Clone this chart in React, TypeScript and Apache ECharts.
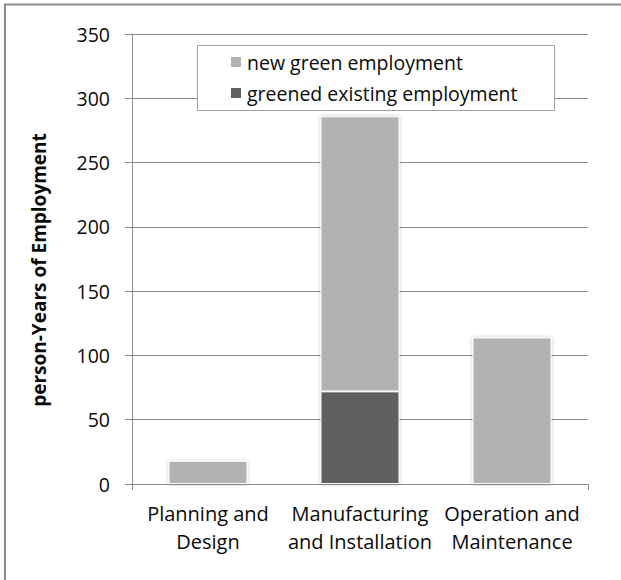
import React, { useEffect, useRef } from "react";
import * as echarts from "echarts";

// Employment by project phase, split into newly created and greened existing jobs
const categories = [
  "Planning and\nDesign",
  "Manufacturing\nand Installation",
  "Operation and\nMaintenance",
];
const greenedExisting = [0, 72, 0];
const newGreen = [18, 214, 114];
const yTicks = { min: 0, max: 350, interval: 50 };
const seriesNames = ["new green employment", "greened existing employment"];
const yTitle = "person-Years of Employment";

const FONT = "'Open Sans', sans-serif";
const LIGHT = "#b2b2b2";
const DARK = "#616161";
const RULE = "#8c8c8c";

export default function App() {
  const ref = useRef<HTMLDivElement>(null);

  useEffect(() => {
    if (!ref.current) return;
    const chart = echarts.init(ref.current, undefined, { renderer: "svg" });

    const barStyle = (color: string) => ({
      color,
      borderColor: "#ffffff",
      borderWidth: 1,
      shadowBlur: 4,
      shadowColor: "rgba(0,0,0,0.22)",
    });

    chart.setOption({
      animation: false,
      backgroundColor: "#ffffff",
      textStyle: { fontFamily: FONT },
      grid: { left: 132, right: 33, top: 34, bottom: 96, containLabel: false },
      legend: {
        orient: "vertical",
        left: 229,
        top: 52,
        padding: 0,
        z: 20,
        itemWidth: 12,
        itemHeight: 12,
        itemGap: 11,
        itemTextGap: 6,
        icon: "rect",
        data: seriesNames,
        textStyle: { fontFamily: FONT, fontSize: 19.5, color: "#0a0a0a", lineHeight: 20 },
      },
      xAxis: {
        type: "category",
        data: categories,
        axisLine: { show: true, lineStyle: { color: RULE, width: 1 } },
        axisTick: {
          show: true,
          length: 6,
          interval: (i: number) => i === 0,
          lineStyle: { color: RULE },
        },
        axisLabel: {
          fontFamily: FONT,
          fontSize: 20,
          color: "#0a0a0a",
          lineHeight: 28,
          margin: 15,
          interval: 0,
        },
      },
      yAxis: {
        type: "value",
        min: yTicks.min,
        max: yTicks.max,
        interval: yTicks.interval,
        name: yTitle,
        nameLocation: "middle",
        nameGap: 84,
        nameTextStyle: {
          fontFamily: FONT,
          fontSize: 19,
          fontWeight: "bold",
          color: "#0a0a0a",
          padding: [0, 22, 0, 0],
        },
        axisLine: { show: true, lineStyle: { color: RULE, width: 1 } },
        axisTick: { show: true, length: 7, lineStyle: { color: RULE } },
        axisLabel: { fontFamily: FONT, fontSize: 19.5, color: "#0a0a0a", margin: 22 },
        splitLine: { show: true, lineStyle: { color: RULE, width: 1 } },
      },
      graphic: [
        {
          type: "rect",
          shape: { x: 197.5, y: 45.5, width: 357, height: 65 },
          style: { fill: "#ffffff", stroke: "#a0a0a0", lineWidth: 1 },
          z: 1,
        },
        {
          type: "polyline",
          shape: { points: [[5, 580], [5, 4.5], [621, 4.5]] },
          style: { fill: "none", stroke: "#8a8a8a", lineWidth: 2 },
          z: 10,
        },
      ],
      series: [
        {
          name: seriesNames[1],
          type: "bar",
          stack: "jobs",
          barWidth: "52%",
          data: greenedExisting,
          itemStyle: barStyle(DARK),
        },
        {
          name: seriesNames[0],
          type: "bar",
          stack: "jobs",
          barWidth: "52%",
          data: newGreen,
          itemStyle: barStyle(LIGHT),
        },
      ],
    });

    return () => chart.dispose();
  }, []);

  return (
    <div
      ref={ref}
      style={{ position: "absolute", left: 0, top: 0, width: 621, height: 580 }}
    />
  );
}
